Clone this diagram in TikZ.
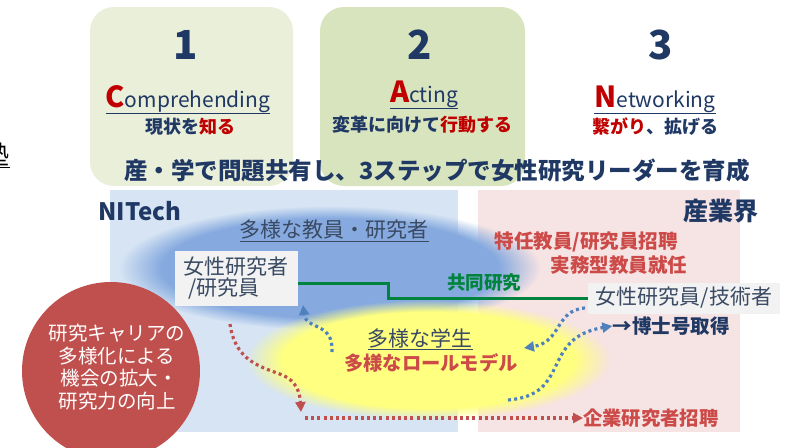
\documentclass[tikz,border=0pt]{standalone}
\usepackage{fontspec}
\setmainfont{Noto Sans CJK JP}
\usetikzlibrary{arrows.meta,fadings}
\definecolor{navy}{HTML}{1F3864}
\definecolor{dred}{HTML}{C00000}
\definecolor{sred}{HTML}{CC4A48}
\definecolor{boxone}{HTML}{EAEFDA}
\definecolor{boxtwo}{HTML}{D8E4BD}
\definecolor{blueback}{HTML}{D6E4F4}
\definecolor{pinkback}{HTML}{F6E3E3}
\definecolor{blueell}{HTML}{86AADF}
\definecolor{yellowell}{HTML}{FFFF80}
\definecolor{circred}{HTML}{C0504D}
\definecolor{jointgreen}{HTML}{00843D}
\definecolor{dotblue}{HTML}{4F81BD}
\definecolor{labelbox}{HTML}{F2F2F2}
\definecolor{grayblue}{HTML}{3A4A63}
\newcommand\fsz[1]{\fontsize{#1}{#1}\selectfont}
\tikzset{
  stepnum/.style={text=navy,font=\fsz{40}\bfseries},
  stepword/.style={text=navy,font=\fsz{21}\mdseries},
  stepsub/.style={text=navy,font=\fsz{18}\bfseries},
  plainlabel/.style={font=\fsz{21}},
  redbold/.style={text=sred,font=\fsz{19.5}\bfseries},
  greybox/.style={fill=labelbox,text=grayblue,font=\fsz{21},inner sep=3pt},
  dotline/.style={line width=3.2pt,dash pattern=on 3pt off 3.2pt},
  bluedot/.style={dotline,draw=dotblue,-{Triangle[length=10pt,width=10pt]}},
  reddot/.style={dotline,draw=circred,-{Triangle[length=10pt,width=10pt]}},
}
\begin{document}
\begin{tikzpicture}[x=1pt,y=-1pt,every node/.style={inner sep=0pt}]
\useasboundingbox (0,0) rectangle (792,447);
\clip (0,0) rectangle (792,447);
\fill[white] (0,0) rectangle (792,447);

% partially visible glyph at the left edge
\node[anchor=east,font=\fsz{26}] (edge) at (10,155) {\underline{塾}};

% step boxes
\fill[boxone,rounded corners=24pt] (90,7) rectangle (293,186);
\fill[boxtwo,rounded corners=24pt] (320,7) rectangle (525,186);

% background areas
\fill[blueback] (110,190) rectangle (458,432);
\fill[pinkback] (478,190) rectangle (740,432);

% blurred ellipses
\fill[blueell,path fading=circle with fuzzy edge 20 percent] (330,268) ellipse [x radius=210pt, y radius=62pt];
\fill[yellowell,path fading=circle with fuzzy edge 20 percent] (428,360) ellipse [x radius=182pt, y radius=60pt];

% steps
\node[stepnum] (n1) at (186,45) {1};
\node[stepnum] (n2) at (420,45) {2};
\node[stepnum] (n3) at (661,45) {3};
\node[stepword,anchor=base] (w1) at (188,107) {\underline{\textcolor{dred}{\fsz{29}\bfseries C}omprehending}};
\node[stepword,anchor=base] (w2) at (424,102) {\underline{\textcolor{dred}{\fsz{29}\bfseries A}cting}};
\node[stepword,anchor=base] (w3) at (655,107) {\underline{\textcolor{dred}{\fsz{29}\bfseries N}etworking}};
\node[stepsub] (s1) at (190,127) {現状を\textcolor{dred}{知る}};
\node[stepsub] (s2) at (422,125) {変革に向けて\textcolor{dred}{行動する}};
\node[stepsub] (s3) at (655,127) {\textcolor{dred}{繋がり}、拡げる};

% title
\node[text=navy,font=\fsz{23.5}\bfseries] (title) at (437,170) {産・学で問題共有し、3ステップで女性研究リーダーを育成};

% area labels
\node[text=navy,font=\fsz{24}\bfseries] (nitech) at (140,211) {NITech};
\node[text=navy,font=\fsz{25}\bfseries] (industry) at (721,211) {産業界};

% faculty
\node[plainlabel,text=grayblue] (faculty) at (334,231) {\underline{多様な教員・研究者}};
\node[greybox,align=left,minimum width=123pt,minimum height=55pt] (femres) at (236,278) {女性研究者\\\ /研究員};

\node[redbold] (invite) at (586,242) {特任教員/研究員招聘};
\node[redbold] (practice) at (619,265) {実務型教員就任};

\node[greybox,minimum width=192pt,minimum height=31pt] (femind) at (684,298) {女性研究員/技術者};
\node[text=navy,font=\fsz{19.5}\bfseries] (phd) at (671,326) {→博士号取得};

% joint research
\coordinate (step1) at (388,283);
\coordinate (step2) at (388,298);
\draw[jointgreen,line width=3pt] (femres.east |- step1) -- (step1) -- (step2) -- (femind.west |- step2);
\node[text=jointgreen,font=\fsz{18.5}\bfseries] (joint) at (484,283) {共同研究};

% students
\node[plainlabel,text=grayblue] (students) at (420,339) {\underline{多様な学生}};
\node[redbold,font=\fsz{19.3}\bfseries] (rolemodel) at (431,363) {多様なロールモデル};

\node[redbold,font=\fsz{19.3}\bfseries,anchor=west] (corp) at (583,418) {企業研究者招聘};

% red circle
\fill[circred] (111,371) circle [radius=89pt];
\node[text=white,font=\fsz{19.5},align=center] (circtext) at (117,367) {研究キャリアの\\[3pt]多様化による\\[3pt]\ 機会の拡大・\\[3pt]研究力の向上};

% dotted arrows
\coordinate (r0) at (230,324);
\coordinate (r1) at (301,412);
\coordinate (r2) at (305,418);
\draw[reddot] (r0) .. controls (236,368) and (272,368) .. (288,378) .. controls (298,385) and (300,395) .. (r1);
\draw[reddot] (r2) -- (corp.west);

\coordinate (b0) at (332,352);
\coordinate (b1) at (303,305);
\draw[bluedot] (b0) .. controls (334,322) and (306,330) .. (b1);
\coordinate (b2) at (585,308);
\coordinate (b3) at (524,348);
\draw[bluedot] (b2) .. controls (555,310) and (562,342) .. (b3);
\coordinate (b4) at (508,400);
\draw[bluedot] (b4) .. controls (572,395) and (540,338) .. (phd.west);
\end{tikzpicture}
\end{document}
